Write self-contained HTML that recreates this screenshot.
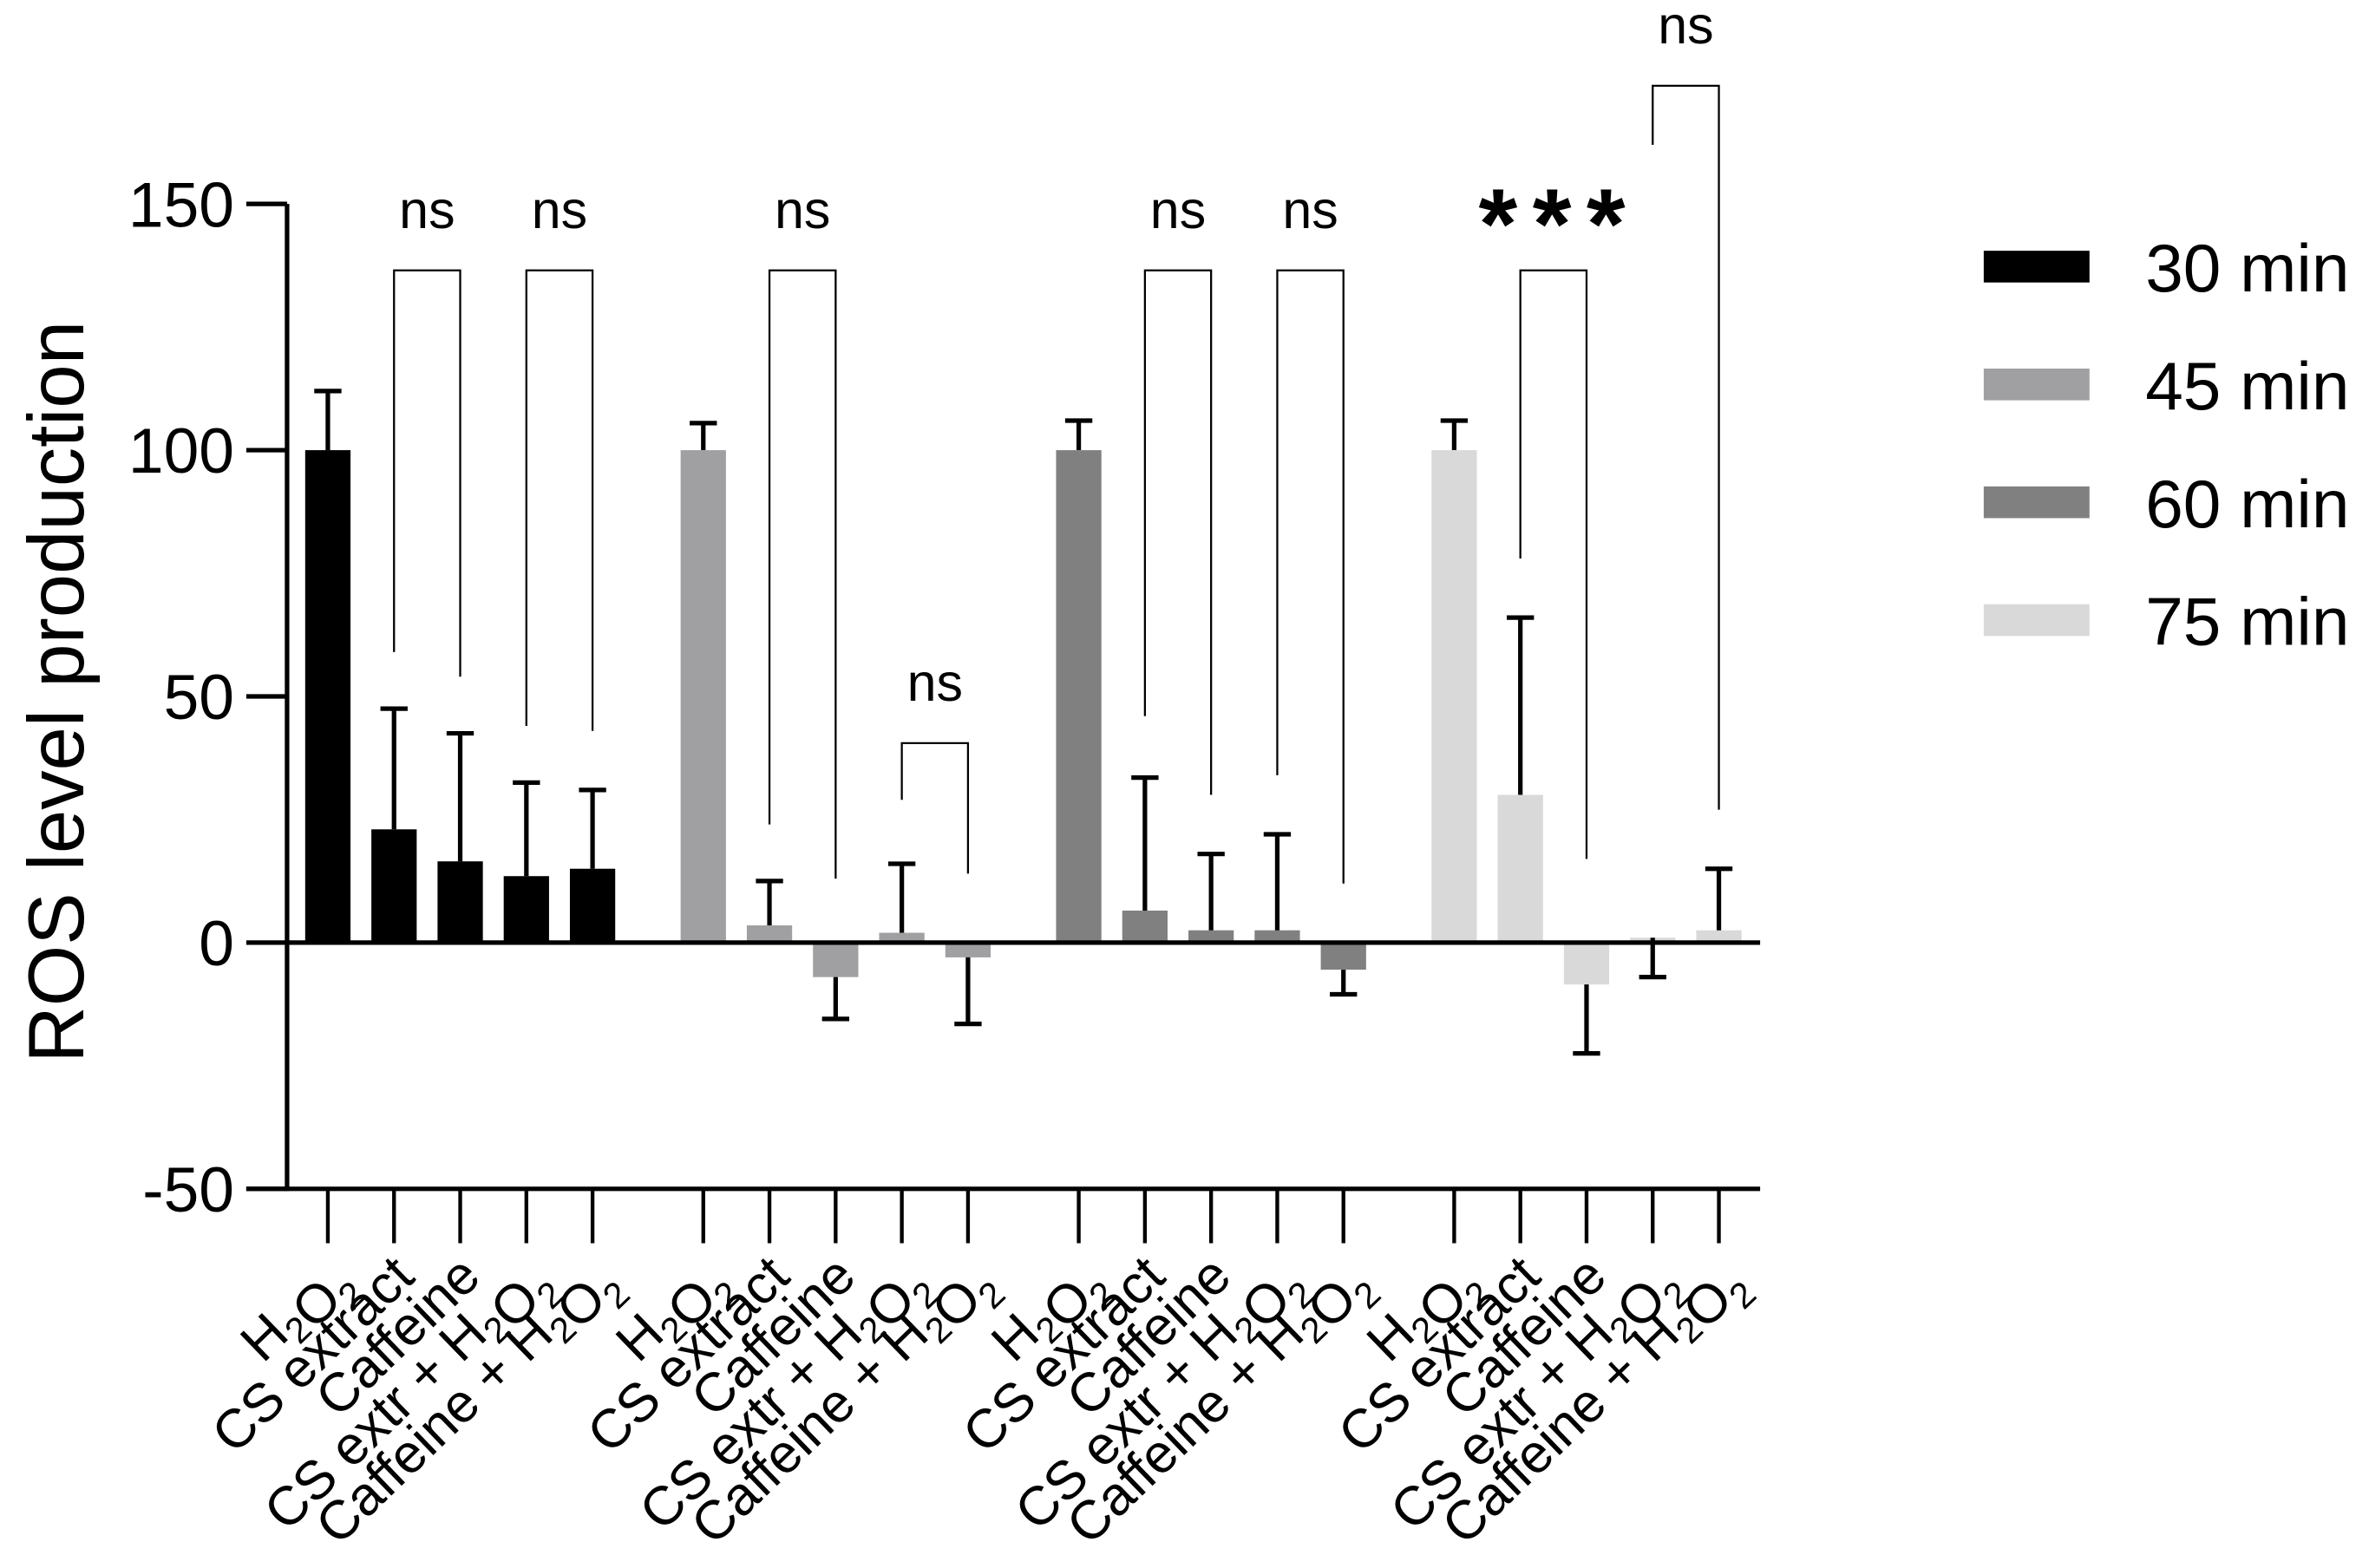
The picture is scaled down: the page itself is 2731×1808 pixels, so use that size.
<!DOCTYPE html>
<html><head><meta charset="utf-8"><style>
html,body{margin:0;padding:0;background:#fff}
svg{display:block}
text{font-family:"Liberation Sans",Arial,sans-serif;fill:#000}
</style></head><body>
<svg id="chart" width="2731" height="1808" viewBox="0 0 1568 1038" preserveAspectRatio="none" xmlns="http://www.w3.org/2000/svg">
<g id="plot"></g>
</svg>
<script>
const groups = ["30 min","45 min","60 min","75 min"];
const colors = ["#000000","#a0a0a3","#808080","#d9d9d9"];
const categories = ["H2O2","CS extract","Caffeine","CS extr + H2O2","Caffeine + H2O2"];
const values30 = [100, 23, 16.5, 13.5, 15];
const values45 = [100, 3.5, -7, 2, -3];
const values60 = [100, 6.5, 2.5, 2.5, -5.5];
const values75 = [100, 30, -8.5, 1, 2.5];
const err30 = [112, 47.5, 42.5, 32.5, 31];
const err45 = [105.5, 12.5, -15.5, 16, -16.5];
const err60 = [106, 33.5, 18, 22, -10.5];
const err75 = [106, 66, -22.5, -7, 15];
const yTicks = [-50, 0, 50, 100, 150];
const bracketGroup = [0,0,1,1,2,2,3,3];
const bracketFrom = [1,3,1,3,1,3,1,3];
const bracketTo = [2,4,2,4,2,4,2,4];
const bracketTop = [136.5,136.5,136.5,40.5,136.5,136.5,136.5,174];
const bracketLeft = [59,44,24,29,46,34,78,162];
const bracketRight = [54,43,13,14,30,12,17,27];
const bracketLabel = ["ns","ns","ns","ns","ns","ns","***","ns"];

const NS = "http://www.w3.org/2000/svg";
const plot = document.getElementById('plot');
const allVals = [values30, values45, values60, values75];
const allErr = [err30, err45, err60, err75];
const y0 = 624, pxPerUnit = 3.26;
function yScale(v){ return y0 - v*pxPerUnit; }
function xScale(g,i){ return 217 + g*248.5 + i*43.8; }
function mk(tag, attrs, parent){ const e=document.createElementNS(NS,tag); for(const k in attrs) e.setAttribute(k,attrs[k]); (parent||plot).appendChild(e); return e; }

allVals.forEach((arr,g)=>{
  arr.forEach((v,i)=>{
    const x = xScale(g,i), bw = 30;
    const top = Math.min(yScale(v), y0), h = Math.abs(yScale(v)-y0);
    const r = mk('rect',{x:x-bw/2,y:top,width:bw,height:Math.max(h,1.5),fill:colors[g]});
    
    
    const e = allErr[g][i];
    const ey = yScale(e), by = yScale(v);
    const l = mk('path',{d:`M${x},${by} L${x},${ey} M${x-9},${ey} L${x+9},${ey}`,stroke:'#000','stroke-width':3,fill:'none'});
    
    
  });
});
const zl = mk('line',{x1:190,x2:1165,y1:y0,y2:y0,stroke:'#000','stroke-width':3});


const ya = mk('line',{x1:190,x2:190,y1:yScale(150),y2:yScale(-50)+1.5,stroke:'#000','stroke-width':3});


const xa = mk('line',{x1:163,x2:1165,y1:yScale(-50),y2:yScale(-50),stroke:'#000','stroke-width':3});


yTicks.forEach(t=>{
  const y=yScale(t);
  const tk = mk('line',{x1:163,x2:190,y1:y,y2:y,stroke:'#000','stroke-width':3});
  
  
  const tx = mk('text',{x:155,y:y+15,'text-anchor':'end','font-size':42});
  tx.textContent = t;
  
  
});
const yt = mk('text',{x:0,y:0,'text-anchor':'middle','font-size':52,transform:'translate(55,458) rotate(-90)'});
yt.textContent = 'ROS level production';


for(let g=0;g<4;g++){
  categories.forEach((c,i)=>{
    const x = xScale(g,i), yb = yScale(-50);
    const tk = mk('line',{x1:x,x2:x,y1:yb,y2:yb+36,stroke:'#000','stroke-width':2.5});
    
    
    const t = mk('text',{x:0,y:0,'text-anchor':'end','font-size':36,transform:`translate(${x+15},${yb+60}) rotate(-44)`});
    
    
    const parts = c.split(/(2)/);
    parts.forEach(p=>{
      if(p==='') return;
      const s = document.createElementNS(NS,'tspan');
      if(p==='2'){ s.setAttribute('font-size','24'); s.setAttribute('dy','8'); s.textContent='2';
        t.appendChild(s); const back=document.createElementNS(NS,'tspan'); back.setAttribute('dy','-8'); back.textContent=''; t.appendChild(back); }
      else { s.textContent=p; t.appendChild(s); }
    });
  });
}
bracketGroup.forEach((g,k)=>{
  const x1 = xScale(g,bracketFrom[k]), x2 = xScale(g,bracketTo[k]);
  const yt2 = yScale(bracketTop[k]);
  const p = mk('path',{d:`M${x1},${yScale(bracketLeft[k])} L${x1},${yt2} L${x2},${yt2} L${x2},${yScale(bracketRight[k])}`,stroke:'#000','stroke-width':1.3,fill:'none'});
  
  
  const star = bracketLabel[k]==='***';
  const t = mk('text',{x:(x1+x2)/2+(star?4:0),y:star?yt2-8:yt2-28,'text-anchor':'middle','font-size':star?66:35,'font-weight':star?'bold':'normal','letter-spacing':star?10:0});
  t.textContent = bracketLabel[k];
  
  
});
groups.forEach((gname,g)=>{
  const y = 166 + g*78;
  const r = mk('rect',{x:1313,y:y,width:70,height:21,fill:colors[g]});
  
  
  const t = mk('text',{x:1420,y:y+27,'font-size':45});
  t.textContent = gname;
  
  
});
</script>
</body></html>
